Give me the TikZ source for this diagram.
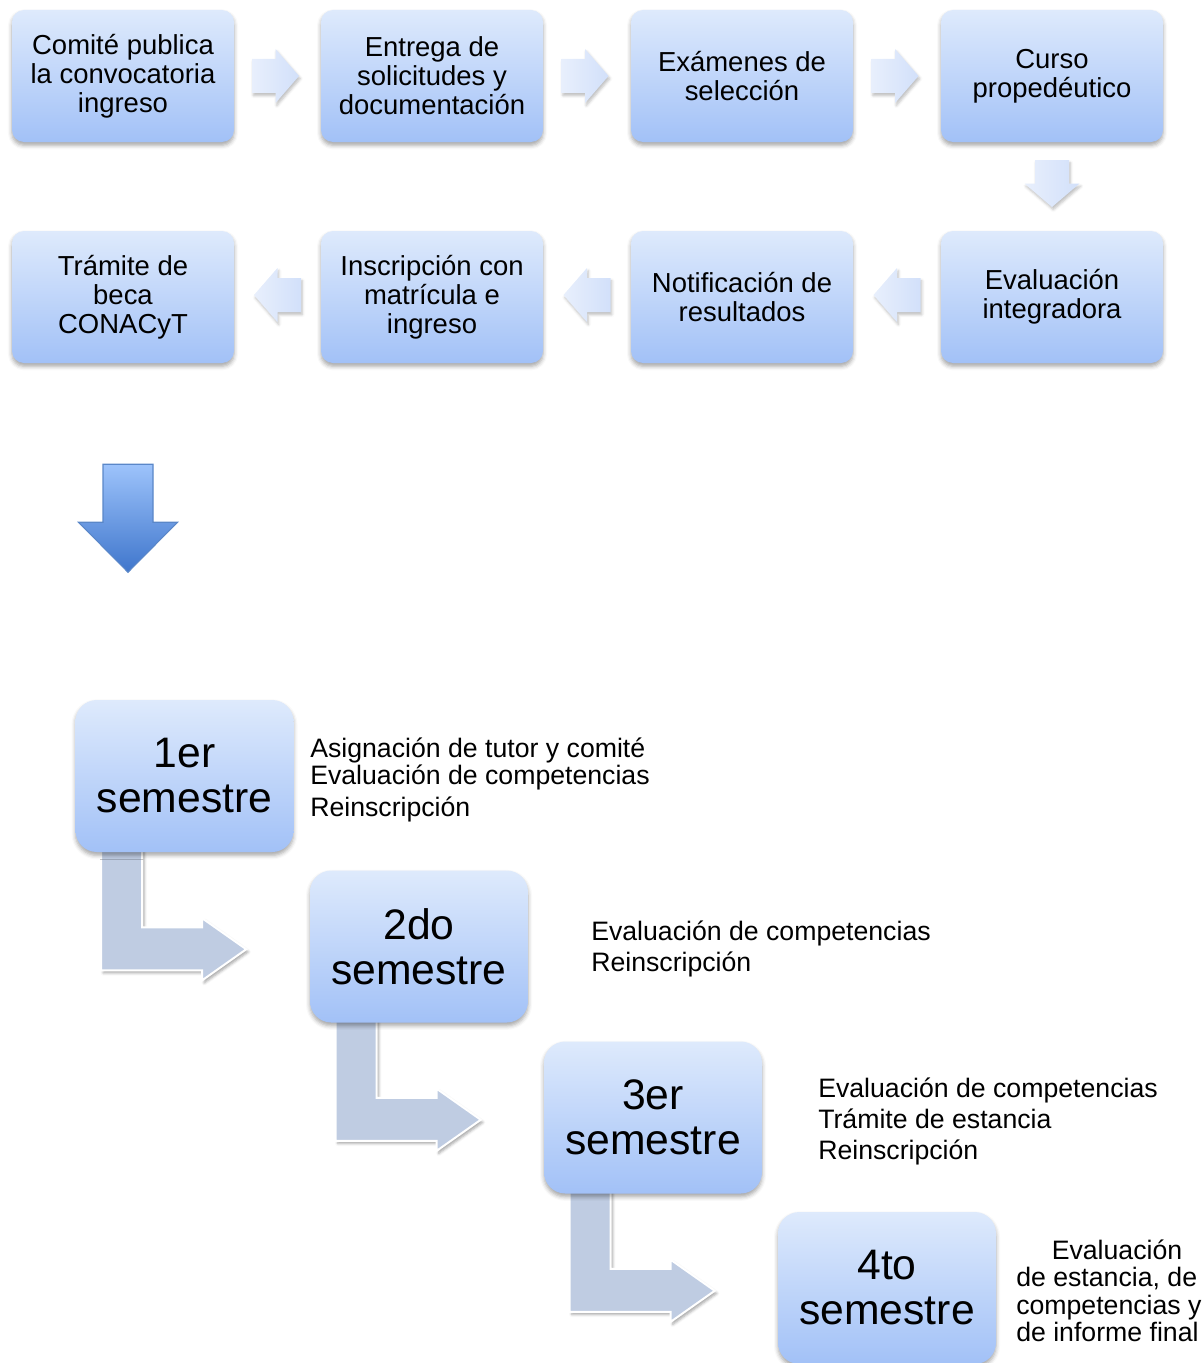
\documentclass[tikz,border=0pt]{standalone}
\usepackage{fontspec}
\setmainfont{Liberation Sans}
\usetikzlibrary{calc,shadows,shadows.blur}
\pgfdeclarelayer{bg}
\pgfsetlayers{bg,main}
\definecolor{boxtop}{HTML}{DEEAFC}
\definecolor{boxbot}{HTML}{A2C1F7}
\definecolor{arrleft}{HTML}{E8EFFC}
\definecolor{arrright}{HTML}{D2E0FA}
\definecolor{bigtop}{HTML}{9DC3FB}
\definecolor{bigbot}{HTML}{3F76CC}
\definecolor{bigedge}{HTML}{5A87C8}
\definecolor{bentfill}{HTML}{BFCCE2}
\tikzset{
  procbox/.style={rounded corners=9pt, minimum width=166.5pt, minimum height=99pt,
    top color=boxtop, bottom color=boxbot, draw=none, align=center, inner sep=0pt,
    font=\fontsize{20.6}{21.75}\selectfont,
    blur shadow={shadow xshift=0pt, shadow yshift=-2.5pt, shadow blur radius=3pt, shadow opacity=35}},
  sembox/.style={rounded corners=16pt, minimum width=163.5pt, minimum height=114pt,
    top color=boxtop, bottom color=boxbot, draw=none, align=center, inner sep=0pt,
    font=\fontsize{32}{33.75}\selectfont,
    blur shadow={shadow xshift=0pt, shadow yshift=-2.5pt, shadow blur radius=3pt, shadow opacity=35}},
  smallarr/.style={left color=arrleft, right color=arrright, draw=none,
    blur shadow={shadow xshift=1pt, shadow yshift=-2pt, shadow blur radius=2pt, shadow opacity=25}},
  smallarrv/.style={left color=arrleft, right color=arrright, draw=none,
    blur shadow={shadow xshift=1pt, shadow yshift=-2pt, shadow blur radius=2pt, shadow opacity=25}},
  bigarr/.style={top color=bigtop, bottom color=bigbot, draw=bigedge, line width=0.8pt},
  bentarr/.style={fill=bentfill, draw=white, line width=1.5pt,
    blur shadow={shadow xshift=1.5pt, shadow yshift=-2pt, shadow blur radius=2pt, shadow opacity=35}},
  sidetext/.style={font=\fontsize{20}{24}\selectfont, inner sep=0pt, anchor=base west}
}
\begin{document}
\begin{tikzpicture}[x=0.75pt,y=-0.75pt]
\useasboundingbox (0,0) rectangle (1203,1363);
\clip (0,0) rectangle (1203,1363);

% top row
\node[procbox] (b1) at (123,76) {Comité publica\\la convocatoria\\ingreso};
\node[procbox] (b2) at (432,76) {Entrega de\\solicitudes y\\documentación};
\node[procbox] (b3) at (742,76) {Exámenes de\\selección};
\node[procbox] (b4) at (1052,76) {Curso\\propedéutico};
% second row
\node[procbox] (b8) at (1052,297) {Evaluación\\integradora};
\node[procbox] (b7) at (742,297) {Notificación de\\resultados};
\node[procbox] (b6) at (432,297) {Inscripción con\\matrícula e\\ingreso};
\node[procbox] (b5) at (123,297) {Trámite de\\beca\\CONACyT};

% semesters
\node[sembox] (s1) at (184.5,776) {1er\\semestre};
\node[sembox] (s2) at (419,946.5) {2do\\semestre};
\node[sembox] (s3) at (653,1117.5) {3er\\semestre};
\node[sembox] (s4) at (887,1288) {4to\\semestre};

% side texts
\node[sidetext] (t1a) at (310,757) {Asignación de tutor y comité};
\node[sidetext] (t1b) at (310,784) {Evaluación de competencias};
\node[sidetext] (t1c) at (310,816) {Reinscripción};
\node[sidetext] (t2a) at (591,940) {Evaluación de competencias};
\node[sidetext] (t2b) at (591,971) {Reinscripción};
\node[sidetext] (t3a) at (818,1097) {Evaluación de competencias};
\node[sidetext] (t3b) at (818,1128) {Trámite de estancia};
\node[sidetext] (t3c) at (818,1159) {Reinscripción};
\node[sidetext, anchor=base] (t4a) at (1117,1259) {Evaluación};
\node[sidetext] (t4b) at (1016,1286) {de estancia, de};
\node[sidetext] (t4c) at (1016,1314) {competencias y};
\node[sidetext] (t4d) at (1016,1341) {de informe final};

% arrow anchor points
\coordinate (a12) at ($(b1.east)!.5!(b2.west)$);
\coordinate (a23) at ($(b2.east)!.5!(b3.west)$);
\coordinate (a34) at ($(b3.east)!.5!(b4.west)$);
\coordinate (a48) at ($(b4.south)!.5!(b8.north)$);
\coordinate (a87) at ($(b8.west)!.5!(b7.east)$);
\coordinate (a76) at ($(b7.west)!.5!(b6.east)$);
\coordinate (a65) at ($(b6.west)!.5!(b5.east)$);
\coordinate (abig) at ([shift={(5,155)}]b5.south);
\coordinate (e1) at (s1.south west);
\coordinate (e2) at (s2.south west);
\coordinate (e3) at (s3.south west);

% small right arrows
\foreach \c in {a12,a23,a34}{
  \path[smallarr, shift={(\c)}, xshift=-1.5pt] (-23.5,-17) -- (0,-17) -- (0,-27) -- (23.5,0) -- (0,27) -- (0,17) -- (-23.5,17) -- cycle;
}
% small down arrow
\path[smallarrv, shift={(a48)}, yshift=2.25pt] (-17,-23.5) -- (17,-23.5) -- (17,0) -- (27.5,0) -- (0,23.5) -- (-27.5,0) -- (-17,0) -- cycle;
% small left arrows
\foreach \c in {a87,a76,a65}{
  \path[smallarr, shift={(\c)}, yshift=1.5pt] (23.5,-17) -- (0,-17) -- (0,-27) -- (-23.5,0) -- (0,27) -- (0,17) -- (23.5,17) -- cycle;
}
% big blue arrow
\path[bigarr, shift={(abig)}] (-25,-54) -- (25,-54) -- (25,4) -- (49.5,4) -- (0,54) -- (-49.5,4) -- (-25,4) -- cycle;

% bent arrows behind semester boxes
\begin{pgfonlayer}{bg}
\foreach \c in {e1,e2,e3}{
  \path[bentarr, shift={(\c)}] (26,-4) -- (67,-4) -- (67,75) -- (127,75) -- (127,66) -- (171,97) -- (127,128) -- (127,118) -- (26,118) -- cycle;
}
\end{pgfonlayer}
\end{tikzpicture}
\end{document}
